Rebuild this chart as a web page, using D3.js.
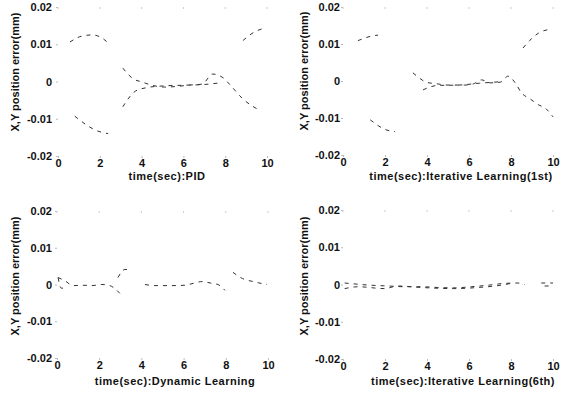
<!DOCTYPE html>
<html>
<head>
<meta charset="utf-8">
<script src="https://cdn.jsdelivr.net/npm/d3@7"></script>
<style>
  body { margin: 0; background: #fff; }
  svg { display: block; }
  .tick text, .lbl { font-family: "Liberation Sans", Arial, sans-serif; font-weight: bold; fill: #111; }
</style>
</head>
<body>
<div id="chart"></div>
<script>
// tick values shared by all four panels
const xTicks = [0, 2, 4, 6, 8, 10];
const yTicks = [0.02, 0.01, 0, -0.01, -0.02];
const yTickLabels = ["0.02", "0.01", "0", "-0.01", "-0.02"];

// PID  (null = gap in the scanned trace)
const pidT1 = [0.57, 1.15, 1.63, 2.1, 2.35, 2.7, 3.1, 3.25, 3.6, 4.0, 4.5, 5.1, 5.9, 6.2, 6.9, 7.4, 7.9, 8.2, 8.85, 9.7];
const pidE1 = [0.0106, 0.0122, 0.0125, 0.0117, 0.0106, null, 0.0036, 0.0026, 0.0007, -0.0001, -0.001, -0.0015, -0.0012, -0.001, -0.0007, 0.002, 0.001, -0.0007, -0.0047, -0.0079];
const pidT2 = [0.8, 1.9, 2.4, 2.7, 3.1, 3.7, 4.2, 5.0, 6.0, 7.0, 7.7, 8.3, 8.85, 9.4, 9.95];
const pidE2 = [-0.0093, -0.0133, -0.014, null, -0.0068, -0.0026, -0.0017, -0.0012, -0.001, -0.0008, -0.0004, null, 0.011, 0.0133, 0.0144];

// Iterative learning, 1st trial
const ilc1T1 = [0.71, 1.33, 1.67, 2.5, 3.33, 3.57, 3.95, 4.52, 5.0, 5.8, 6.2, 6.6, 7.0, 7.5, 7.86, 8.2, 8.5, 8.9, 9.3, 9.67, 10];
const ilc1E1 = [0.0109, 0.0121, 0.0124, null, 0.0022, 0.0011, -0.0003, -0.0008, -0.0011, -0.0011, -0.0008, 0.0003, -0.0005, -0.0003, 0.0013, -0.0005, -0.0032, -0.0048, -0.0064, -0.0075, -0.0097];
const ilc1T2 = [1.3, 2.05, 2.48, 3.1, 3.81, 4.5, 5.5, 6.5, 7.5, 8.2, 8.57, 8.9, 9.3, 9.86];
const ilc1E2 = [-0.0105, -0.0132, -0.0137, null, -0.0024, -0.0012, -0.0011, -0.0006, -0.0002, null, 0.0089, 0.011, 0.0129, 0.014];

// Dynamic learning
const dynT1 = [0.05, 0.38, 0.76, 1.2, 1.66, 2.13, 2.5, 2.84, 3.13, 3.6, 4.17, 4.64, 5.45, 6.07, 6.45, 6.87, 7.35, 7.63, 7.96];
const dynE1 = [0.0019, 0.001, -0.0003, -0.0002, -0.0003, 0, -0.0003, -0.0016, -0.0035, null, 0, -0.0003, -0.0003, -0.0002, 0.0003, 0.0008, 0.0003, 0, -0.0016];
const dynT2 = [0.05, 0.2, 0.5, 1.5, 2.89, 3.22, 3.55, 6.0, 8.34, 8.8, 9.29, 9.95];
const dynE2 = [0.0019, -0.001, -0.0008, null, 0.0019, 0.0041, 0.0038, null, 0.0033, 0.0016, 0.0008, 0];

// Iterative learning, 6th trial
const ilc6T1 = [0.08, 1.35, 2.14, 2.94, 3.73, 4.52, 5.3, 6.1, 6.9, 7.7, 8.33, 8.65, 9.0, 9.44, 10];
const ilc6E1 = [0.0004, -0.0002, -0.0004, -0.0006, -0.0006, -0.0008, -0.0009, -0.0006, -0.0002, 0.0003, 0.0004, 0, null, 0.0004, 0.0004];
const ilc6T2 = [0.08, 0.71, 1.98, 2.6, 3.73, 5.3, 6.43, 7.38, 8.0, 9.0, 9.6, 10];
const ilc6E2 = [-0.0011, -0.0006, -0.0011, -0.0004, -0.0008, -0.0011, -0.0008, -0.0003, 0.0003, null, -0.0004, -0.0004];

const W = 562, H = 406;
const svg = d3.select("#chart").append("svg")
    .attr("width", W)
    .attr("height", H);

// panel placement (pixel spots)
const panels = [
    { x0: 58, x1: 267, yTop: 7, yBot: 156, labX: 15, labY: 72, titleX: 167, titleY: 180, pad: 4,
      title: "time(sec):PID", series: [[pidT1, pidE1], [pidT2, pidE2]] },
    { x0: 343, x1: 553, yTop: 7, yBot: 155, labX: 304, labY: 71, titleX: 461, titleY: 180, pad: 1,
      title: "time(sec):Iterative Learning(1st)", series: [[ilc1T1, ilc1E1], [ilc1T2, ilc1E2]] },
    { x0: 57, x1: 268, yTop: 211, yBot: 358, labX: 15, labY: 276, titleX: 175, titleY: 385, pad: 3,
      title: "time(sec):Dynamic Learning", series: [[dynT1, dynE1], [dynT2, dynE2]] },
    { x0: 343, x1: 553, yTop: 210, yBot: 359, labX: 304, labY: 276, titleX: 463, titleY: 385, pad: 1,
      title: "time(sec):Iterative Learning(6th)", series: [[ilc6T1, ilc6E1], [ilc6T2, ilc6E2]] }
];

panels.forEach(p => {
    const x = d3.scaleLinear().domain([0, 10]).range([p.x0, p.x1]);
    const y = d3.scaleLinear().domain([-0.02, 0.02]).range([p.yBot, p.yTop]);
    const g = svg.append("g");

    // y axis (no axis line, just faint ticks + labels)
    const yAxis = g.append("g")
        .attr("transform", `translate(${p.x0},0)`)
        .call(d3.axisLeft(y).tickValues(yTicks).tickSize(2).tickPadding(p.pad)
            .tickFormat((d, i) => yTickLabels[i]));
    yAxis.select(".domain").remove();
    yAxis.selectAll("line").attr("stroke", "#bbb");
    yAxis.selectAll("text").style("font-size", "11px");

    // x axis along the bottom
    const xAxis = g.append("g")
        .attr("transform", `translate(0,${p.yBot})`)
        .call(d3.axisBottom(x).tickValues(xTicks).tickSize(2).tickPadding(1));
    xAxis.select(".domain").remove();
    xAxis.selectAll("line").attr("stroke", "#bbb");
    xAxis.selectAll("text").style("font-size", "11px");

    // faint tick marks left on the top edge
    g.selectAll(".topTick").data(xTicks).join("line")
        .attr("x1", d => x(d)).attr("x2", d => x(d))
        .attr("y1", p.yTop).attr("y2", p.yTop + 2)
        .attr("stroke", "#ccc");

    // axis titles
    g.append("text").attr("class", "lbl")
        .attr("x", p.titleX).attr("y", p.titleY)
        .attr("text-anchor", "middle")
        .style("font-size", "11px")
        .style("letter-spacing", "0.5px")
        .text(p.title);

    g.append("text").attr("class", "lbl")
        .attr("transform", `translate(${p.labX},${p.labY}) rotate(-90)`)
        .attr("text-anchor", "middle")
        .attr("dy", "0.35em")
        .style("font-size", "11px")
        .text("X,Y position error(mm)");

    // the two error traces, dashed and faint like the scan
    const line = d3.line()
        .defined(d => d[1] !== null)
        .x(d => x(d[0]))
        .y(d => y(d[1]))
        .curve(d3.curveMonotoneX);

    p.series.forEach(([ts, es]) => {
        g.append("path")
            .datum(ts.map((t, i) => [t, es[i]]))
            .attr("d", line)
            .attr("fill", "none")
            .attr("stroke", "#333")
            .attr("stroke-width", 1)
            .attr("stroke-dasharray", "4,5");
    });
});
</script>
</body>
</html>
